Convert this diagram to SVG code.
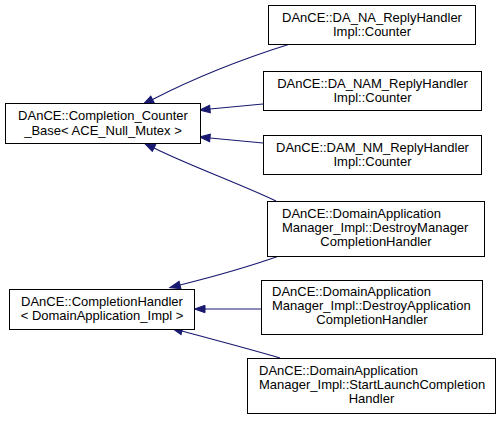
<svg xmlns="http://www.w3.org/2000/svg" width="501" height="421" viewBox="0 0 501 421">
<style>
.box{fill:#ffffff;stroke:#000000;stroke-width:1}
text{font-family:"Liberation Sans",Arial,Helvetica,sans-serif;font-size:13px;fill:#000000}
.c{text-anchor:middle}
.l{text-anchor:start}
.e{fill:none;stroke:#191970;stroke-width:1.2}
</style>
<defs>
<marker id="ah" markerUnits="userSpaceOnUse" markerWidth="11" markerHeight="8" refX="0" refY="3.75" orient="auto" overflow="visible">
<path d="M0,0 L10.5,3.75 L0,7.5 Z" fill="#191970" stroke="#191970" stroke-width="1"/>
</marker>
</defs>
<rect width="501" height="421" fill="#ffffff"/>
<g id="edges">
<path class="e" marker-end="url(#ah)" d="M290,44 C255,55 200,75 152.5,99.5"/>
<path class="e" marker-end="url(#ah)" d="M263,104 L210,109"/>
<path class="e" marker-end="url(#ah)" d="M263,143 L210,138"/>
<path class="e" marker-end="url(#ah)" d="M276,201 C238,183 188,165 154,148"/>
<path class="e" marker-end="url(#ah)" d="M279,256 C248,267 212,277 180,285"/>
<path class="e" marker-end="url(#ah)" d="M261,309 L205,309"/>
<path class="e" marker-end="url(#ah)" d="M280,358 C250,349 215,340 182,331"/>
</g>
<g id="completion_counter_base">
<rect class="box" x="5.5" y="103.5" width="195" height="40"/>
<text class="c" x="103" y="120">DAnCE::Completion_Counter</text>
<text class="c" x="103" y="134.5">_Base&lt; ACE_Null_Mutex &gt;</text>
</g>
<g id="completion_handler">
<rect class="box" x="9.5" y="289.5" width="185" height="40"/>
<text class="c" x="102" y="305.5">DAnCE::CompletionHandler</text>
<text class="c" x="102" y="320">&lt; DomainApplication_Impl &gt;</text>
</g>
<g id="da_na_counter">
<rect class="box" x="268.5" y="5.5" width="207" height="39"/>
<text class="c" x="372" y="21.5">DAnCE::DA_NA_ReplyHandler</text>
<text class="c" x="372" y="36">Impl::Counter</text>
</g>
<g id="da_nam_counter">
<rect class="box" x="263.5" y="71.5" width="218" height="39"/>
<text class="c" x="372.5" y="87.5">DAnCE::DA_NAM_ReplyHandler</text>
<text class="c" x="372.5" y="102">Impl::Counter</text>
</g>
<g id="dam_nm_counter">
<rect class="box" x="263.5" y="135.5" width="218" height="39"/>
<text class="c" x="372.5" y="151.5">DAnCE::DAM_NM_ReplyHandler</text>
<text class="c" x="372.5" y="166">Impl::Counter</text>
</g>
<g id="destroy_manager">
<rect class="box" x="267.5" y="201.5" width="217" height="55"/>
<text class="l" x="282" y="217.5">DAnCE::DomainApplication</text>
<text class="l" x="282" y="231.5">Manager_Impl::DestroyManager</text>
<text class="c" x="376" y="245.5">CompletionHandler</text>
</g>
<g id="destroy_application">
<rect class="box" x="261.5" y="280.5" width="221" height="54"/>
<text class="l" x="272" y="296">DAnCE::DomainApplication</text>
<text class="l" x="272" y="310">Manager_Impl::DestroyApplication</text>
<text class="c" x="372" y="324">CompletionHandler</text>
</g>
<g id="start_launch">
<rect class="box" x="247.5" y="358.5" width="248" height="55"/>
<text class="l" x="259" y="374.5">DAnCE::DomainApplication</text>
<text class="l" x="259" y="388.5">Manager_Impl::StartLaunchCompletion</text>
<text class="c" x="371.5" y="402.5">Handler</text>
</g>
</svg>
